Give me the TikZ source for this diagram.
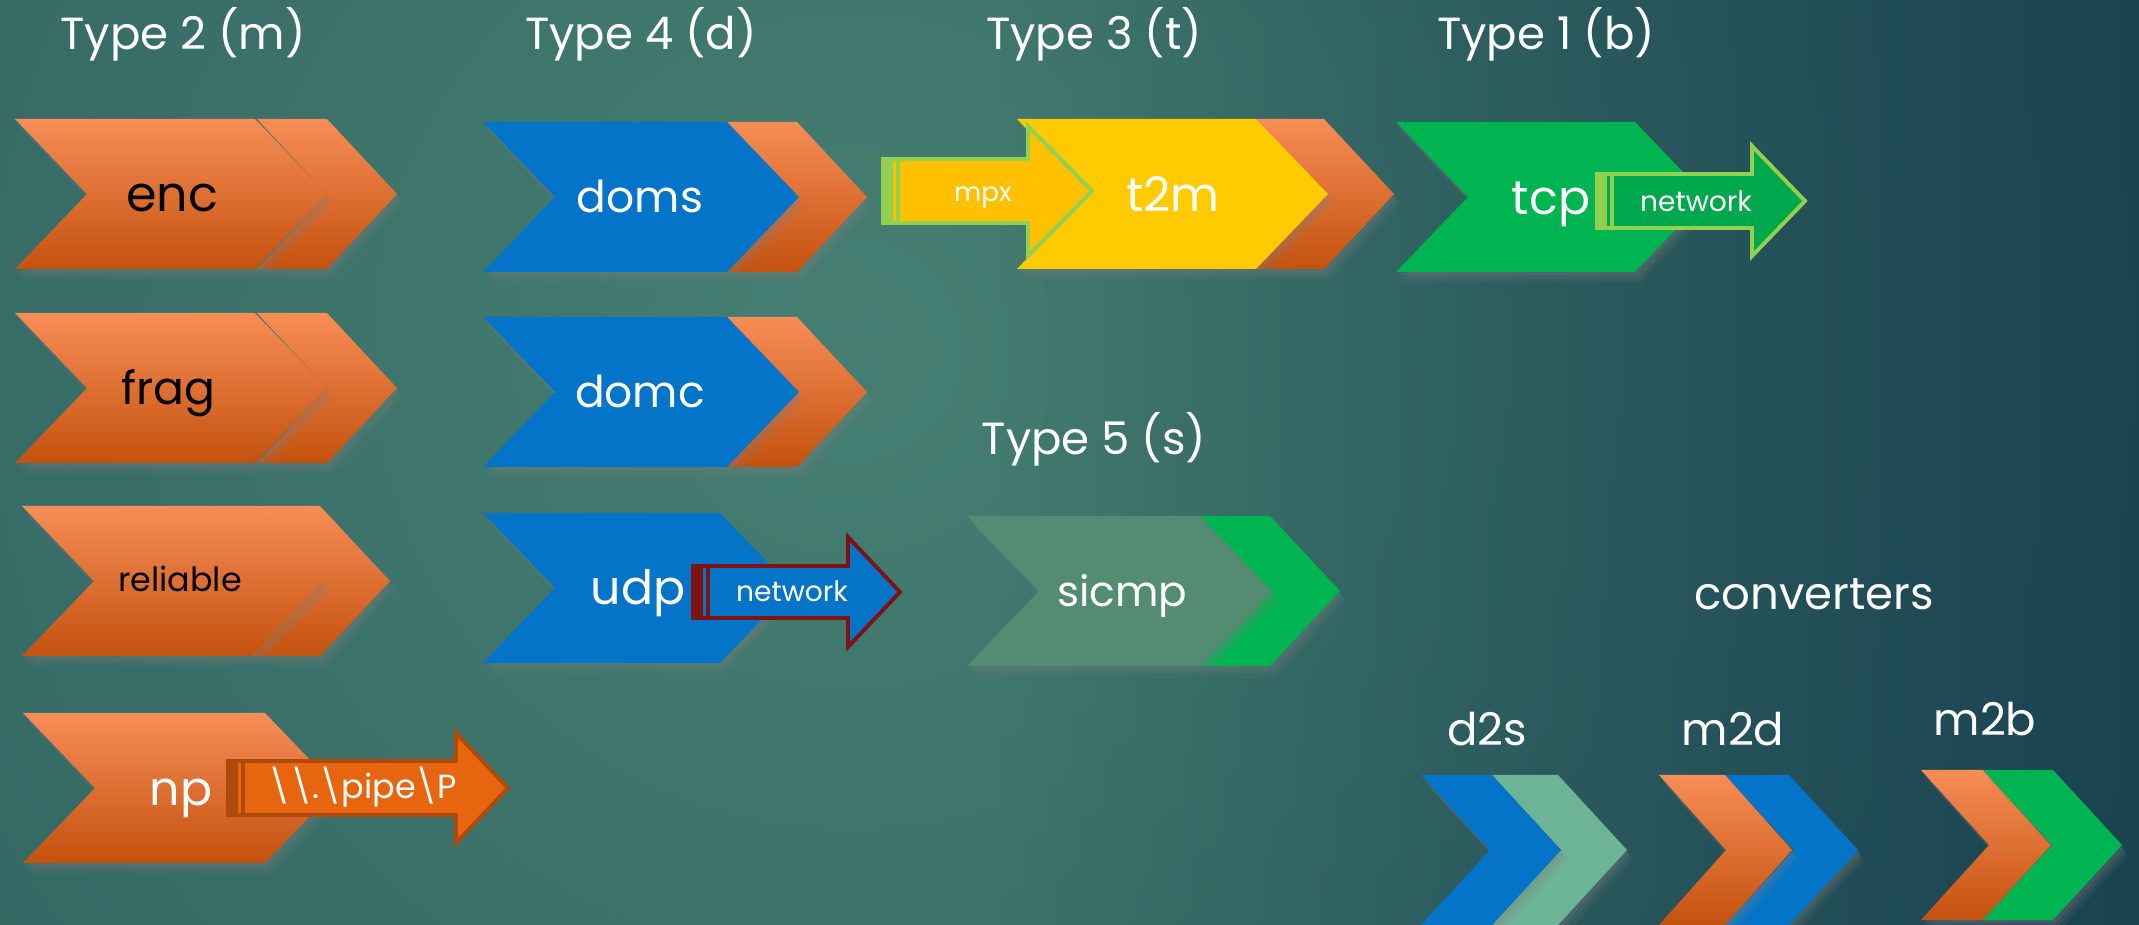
\documentclass[tikz,border=0pt]{standalone}
\usepackage{fontspec}
\setmainfont{Poppins}
\usetikzlibrary{shadows, fadings}

\definecolor{bgin}{HTML}{467F72}
\definecolor{bgout}{HTML}{1C4A52}
\definecolor{bgdeep}{HTML}{12364A}
\definecolor{orTop}{HTML}{F78D56}
\definecolor{orBot}{HTML}{C4520F}
\definecolor{msBlue}{HTML}{0474C8}
\definecolor{msGreen}{HTML}{00B451}
\definecolor{msYellow}{HTML}{FFCB00}
\definecolor{sage}{HTML}{548C73}
\definecolor{mint}{HTML}{6DB396}
\definecolor{lime}{HTML}{92D050}
\definecolor{amber}{HTML}{FFC000}
\definecolor{netGreen}{HTML}{00A84D}
\definecolor{maroon}{HTML}{7F1212}
\definecolor{pipeOr}{HTML}{E8650F}
\definecolor{pipeRim}{HTML}{B04A0B}

\tikzfading[name=fadeleft, left color=transparent!100, right color=transparent!0]

\tikzset{
    shadowed/.style={
        drop shadow={shadow xshift=.6pt, shadow yshift=-1pt, opacity=.18},
        drop shadow={shadow xshift=1.2pt, shadow yshift=-2pt, opacity=.15},
        drop shadow={shadow xshift=1.8pt, shadow yshift=-3pt, opacity=.1}},
    ofill/.style={top color=orTop, bottom color=orBot},
    bfill/.style={fill=msBlue},
    gfill/.style={fill=msGreen},
    yfill/.style={fill=msYellow},
    sfill/.style={fill=sage},
    mfill/.style={fill=mint},
    title/.style={anchor=base, text=white, font=\fontsize{12.8}{15}\selectfont},
    lbl/.style={anchor=base, text=white, font=\fontsize{#1}{#1}\selectfont},
    lbl/.default=13,
    dark/.style={text=black}
}

% chevron: [style] left x, centre y, top width, point depth
\newcommand{\chev}[5][]{%
    \path[shadowed, #1] (#2,#3-75) -- ++(#4,0) -- ++(#5,75) -- ++(-#5,75)
        -- ++(-#4,0) -- ++(#5,-75) -- cycle;}

% striped arrow: fill, rim, left x, centre y, head x, tip x, shaft half, head half
\newcommand{\stripedarrow}[8]{%
    \path[fill=#1, draw=#2, line width=1.1pt]
        (#3,#4-#7) -- (#5,#4-#7) -- (#5,#4-#8) -- (#6,#4) -- (#5,#4+#8)
        -- (#5,#4+#7) -- (#3,#4+#7) -- cycle;
    \fill[#2] (#3-2,#4-#7-2) rectangle (#3+10,#4+#7+2);
    \draw[#2, line width=1.1pt] (#3+15,#4-#7) -- (#3+15,#4+#7);}

\begin{document}
\begin{tikzpicture}[x=0.01cm, y=-0.01cm]
        \useasboundingbox (0,0) rectangle (2139,925);
        \begin{scope}
            \clip (0,0) rectangle (2139,925);
            \shade[inner color=bgin, outer color=bgout] (850,350) circle (2400);
            \fill[bgdeep, opacity=.7, path fading=fadeleft] (1000,0) rectangle (2139,925);
        \end{scope}

        % Type 2
        \chev[ofill]{257}{194}{70}{70}
        \chev[ofill]{15}{194}{240}{72}
        \chev[ofill]{257}{388}{70}{70}
        \chev[ofill]{15}{388}{240}{72}
        \chev[ofill]{252}{581}{68}{70}
        \chev[ofill]{22}{581}{230}{72}
        \chev[ofill]{23}{788}{242}{72}
        \stripedarrow{pipeOr}{pipeRim}{228}{788}{456}{508}{27}{55}

        % Type 4
        \chev[ofill]{727}{197}{70}{70}
        \chev[bfill]{483}{197}{244}{72}
        \chev[ofill]{727}{392}{70}{70}
        \chev[bfill]{483}{392}{244}{72}
        \chev[bfill]{483}{588}{237}{72}
        \stripedarrow{msBlue}{maroon}{693}{592}{848}{900}{26}{55}

        % Type 3, Type 1, Type 5
        \chev[ofill]{1256}{194}{68}{70}
        \chev[yfill]{1017}{194}{239}{72}
        \stripedarrow{amber}{lime}{883}{191}{1028}{1092}{32}{65}
        \chev[gfill]{1396}{197}{239}{72}
        \stripedarrow{netGreen}{lime}{1597}{201}{1752}{1805}{27}{55}
        \chev[gfill]{1200}{591}{70}{70}
        \chev[sfill]{967}{591}{233}{72}

        % converters
        \chev[mfill]{1492}{850}{66}{69}
        \chev[bfill]{1421}{850}{71}{69}
        \chev[bfill]{1725}{850}{64}{69}
        \chev[ofill]{1659}{850}{66}{67}
        \chev[ofill]{1921}{845}{62}{68}
        \chev[gfill]{1983}{845}{70}{69}

        \node[title] (t2) at (183,50) {Type 2 (m)};
        \node[title] (t4) at (641,50) {Type 4 (d)};
        \node[title] (t3) at (1094,50) {Type 3 (t)};
        \node[title] (t1) at (1546,50) {Type 1 (b)};
        \node[title] (t5) at (1094,455) {Type 5 (s)};
        \node[title] (conv) at (1814,610) {converters};
        \node[title] (d2s) at (1487,746) {d2s};
        \node[title] (m2d) at (1733,746) {m2d};
        \node[title] (m2b) at (1985,736) {m2b};

        \node[lbl=14, dark] (enc) at (172,212) {enc};
        \node[lbl=13, dark] (frag) at (168,405) {frag};
        \node[lbl=9.5, dark] (reliable) at (180,592) {reliable};
        \node[lbl=13.5] (np) at (181,805) {np};
        \node[lbl=9.5] (pipe) at (363,798) {\textbackslash\textbackslash.\textbackslash pipe\textbackslash P};
        \node[lbl=12.5] (doms) at (640,213) {doms};
        \node[lbl=12.5] (domc) at (640,408) {domc};
        \node[lbl=13.5] (udp) at (638,605) {udp};
        \node[lbl=8] (unet) at (792,602) {network};
        \node[lbl=7.5] (mpx) at (983,202) {mpx};
        \node[lbl=13.5] (t2m) at (1173,212) {t2m};
        \node[lbl=13.5] (tcp) at (1551,215) {tcp};
        \node[lbl=8] (tnet) at (1696,212) {network};
        \node[lbl=12] (sicmp) at (1122,607) {sicmp};
\end{tikzpicture}
\end{document}
